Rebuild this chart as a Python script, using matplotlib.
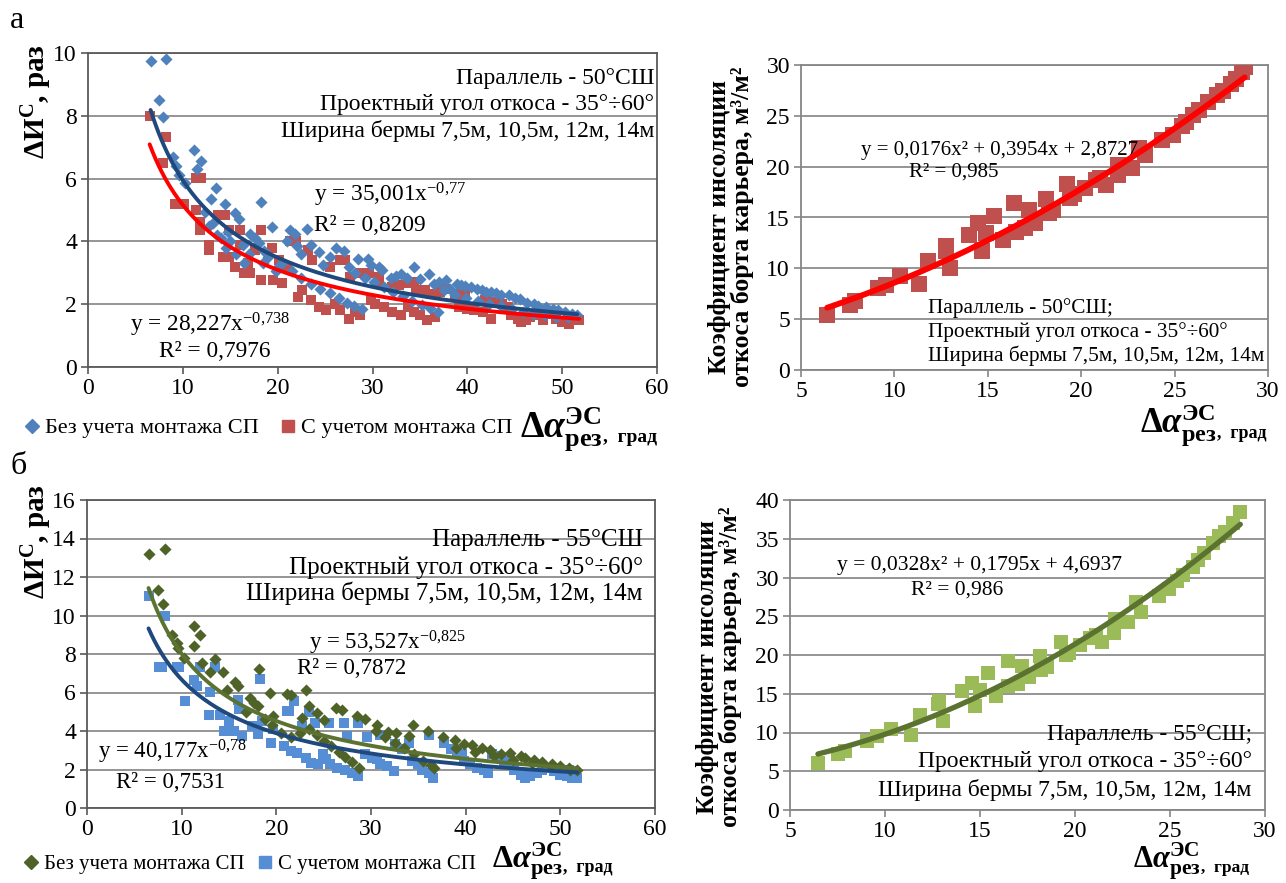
import numpy as np
import matplotlib
matplotlib.use("Agg")
import matplotlib.pyplot as plt
from matplotlib.lines import Line2D

plt.rcParams['font.family'] = ['Liberation Serif', 'DejaVu Serif']
plt.rcParams['mathtext.fontset'] = 'custom'
plt.rcParams['mathtext.rm'] = 'Liberation Serif'
plt.rcParams['mathtext.it'] = 'Liberation Serif:italic'
plt.rcParams['mathtext.bf'] = 'Liberation Serif:bold'
plt.rcParams['mathtext.bfit'] = 'Liberation Serif:italic:bold'

# ---------------- Panel а, left: ΔИС vs Δα (parallel 50°N) ----------------
a_no_sp_x = [6.6, 8.2, 7.5, 7.9, 9.0, 9.3, 9.6, 10.2, 11.2, 11.5, 11.9, 12.3, 13.0, 13.5, 14.4,
             15.5, 15.9, 12.8, 13.6, 14.0, 14.5, 15.0, 15.6, 16.5, 17.1, 17.6, 18.2, 18.0, 18.6,
             19.4, 19.0, 20.0, 21.3, 21.8, 21.0, 22.0, 22.5, 23.1, 23.5, 24.4, 24.8, 25.5, 26.2,
             27.0, 27.5, 28.5, 29.5, 29.8, 30.7, 31.0, 32.0, 32.5, 33.0, 33.6, 34.4, 35.0, 36.0,
             36.5, 37.0, 37.8, 38.2, 38.9, 39.3, 39.8, 40.4, 41.0, 41.5, 42.0, 42.5, 43.0, 43.6,
             44.4, 45.0, 45.6, 46.3, 47.0, 47.5, 48.3, 49.0, 49.6, 50.3, 51.0, 51.6,
             20.5, 21.5, 22.5, 23.5, 24.5, 25.5, 26.5, 27.3, 28.1, 28.9,
             28.2, 29.2, 30.2, 31.2, 32.2, 33.2, 34.2, 35.2, 36.1, 36.9,
             37.5, 38.7, 39.9, 41.1, 42.3, 43.5, 44.7, 45.9, 47.0, 48.2, 49.4, 50.6,
             13.2, 14.8, 16.3, 17.0, 18.5, 19.8]
a_no_sp_y = [9.75, 9.8, 8.5, 7.95, 6.7, 6.4, 6.1, 5.85, 6.9, 6.3, 6.55, 4.95, 5.35, 5.7, 5.2,
             4.9, 4.7, 4.5, 4.2, 4.1, 3.8, 4.0, 3.6, 3.3, 4.25, 4.1, 5.25, 3.95, 3.7,
             4.45, 3.5, 3.2, 4.35, 4.25, 4.0, 3.85, 3.6, 4.4, 3.9, 3.65, 3.25, 3.5, 3.8,
             3.7, 3.2, 3.45, 3.45, 3.25, 3.2, 3.1, 2.85, 2.9, 2.95, 2.85, 3.2, 2.8, 2.95,
             2.65, 2.7, 2.78, 2.5, 2.65, 2.6, 2.57, 2.55, 2.5, 2.45, 2.4, 2.38, 2.35, 2.3,
             2.3, 2.2, 2.15, 2.05, 2.0, 1.95, 1.9, 1.85, 1.8, 1.75, 1.7, 1.65,
             3.3, 3.05, 2.85, 2.65, 2.5, 2.35, 2.2, 2.05, 1.95, 1.85,
             3.0, 2.85, 2.7, 2.55, 2.4, 2.25, 2.1, 1.98, 1.88, 1.76,
             2.45, 2.3, 2.2, 2.1, 2.0, 1.95, 1.85, 1.75, 1.7, 1.65, 1.6, 1.58,
             4.6, 4.3, 3.9, 3.6, 3.3, 3.05]

a_sp_x = [6.5, 8.26, 7.9, 9.17, 10.1, 11.4, 11.9, 11.4, 11.8, 11.8, 12.8, 12.8, 13.7, 14.4, 14.9,
          16.0, 14.2, 14.9, 15.5, 16.0, 16.4, 17.1, 16.9, 17.6, 18.2, 18.2, 19.4, 19.5, 20.1,
          20.5, 21.3, 21.9, 21.0, 22.1, 22.6, 23.2, 23.6, 23.5, 24.4, 25.1, 25.5, 26.6, 27.1,
          26.0, 26.6, 27.5, 28.2, 28.7, 27.6, 28.7, 29.6, 30.7, 30.7, 29.8, 30.3, 31.2, 32.1,
          33.0, 32.1, 32.8, 33.7, 34.4, 34.6, 33.7, 34.4, 35.0, 35.7, 36.6, 35.5, 36.2, 37.1,
          37.8, 38.7, 39.4, 39.8, 39.1, 40.0, 40.7, 41.6, 42.5, 41.9, 42.8, 43.7, 44.3, 44.6,
          45.3, 45.7, 46.2, 46.6, 47.3, 48.0, 48.4, 49.3, 50.0, 50.7, 51.4, 51.8]
a_sp_y = [7.98, 7.32, 6.51, 5.19, 5.19, 6.01, 6.01, 5.0, 4.63, 4.36, 3.88, 3.72, 4.84, 4.84, 4.36,
          4.36, 3.51, 3.51, 3.19, 3.88, 2.98, 2.98, 3.30, 3.72, 4.36, 2.77, 3.78, 2.77, 3.40,
          2.66, 4.02, 4.02, 3.19, 2.23, 2.45, 3.72, 3.40, 2.13, 1.91, 1.81, 3.19, 3.40, 3.40,
          2.02, 1.81, 1.54, 1.76, 1.65, 2.87, 2.98, 2.98, 2.87, 2.66, 2.13, 2.02, 1.91, 1.76,
          1.65, 2.55, 2.61, 2.66, 2.71, 2.45, 1.91, 1.76, 1.65, 1.49, 1.60, 2.45, 2.34, 2.39,
          2.50, 2.34, 2.29, 2.34, 1.91, 1.86, 1.81, 1.76, 1.54, 2.13, 2.07, 2.02, 1.91, 1.65,
          1.54, 1.44, 1.49, 1.60, 1.65, 1.49, 1.70, 1.54, 1.44, 1.38, 1.54, 1.49]

a_fit_no_sp = (35.001, -0.77)
a_fit_sp = (28.227, -0.738)

# ---------------- Panel а, right: insolation coefficient (50°N) ----------------
a_k_x = [6.4, 7.6, 7.9, 9.1, 9.55, 10.3, 11.3, 11.8, 12.75, 12.75, 12.97, 14.0, 14.5, 14.7, 14.9,
         15.35, 15.8, 16.4, 16.5, 17.0, 17.2, 17.5, 18.1, 18.25, 18.5, 19.25, 19.4, 19.6, 20.2,
         20.8, 21.0, 21.35, 21.97, 21.97, 22.7, 23.1, 23.4, 24.35, 24.9, 25.4, 25.6, 26.0, 26.3,
         26.8, 27.25, 27.6, 28.0, 28.3, 28.6, 28.75]
a_k_y = [5.45, 6.37, 6.82, 8.06, 8.39, 9.21, 8.49, 10.77, 12.21, 11.75, 10.02, 13.29, 14.43, 11.75, 13.45,
         15.18, 12.80, 16.39, 13.61, 13.94, 15.73, 14.50, 16.78, 15.41, 15.73, 18.28, 16.88, 17.30, 17.86,
         18.67, 18.84, 18.19, 20.14, 19.16, 19.91, 21.87, 21.12, 22.59, 23.08, 23.96, 24.39, 25.04, 25.53,
         26.35, 27.0, 27.49, 28.14, 28.63, 29.28, 29.84]
a_k_fit = (0.0176, 0.3954, 2.8727)

# ---------------- Panel б, left: ΔИС vs Δα (parallel 55°N) ----------------
b_no_sp_x = [6.5, 8.2, 7.5, 8.0, 9.0, 9.5, 9.6, 10.2, 11.25, 11.35, 11.9, 12.1, 12.96, 13.5, 14.35,
             14.8, 15.65, 15.97, 17.2, 17.6, 18.1, 18.2, 19.3, 19.7, 21.1, 21.6, 23.1, 22.7, 23.5,
             24.3, 25.0, 26.25, 26.9, 28.5, 29.4, 30.6, 31.8, 32.6, 34.0, 34.4, 36.0, 37.6, 38.9,
             39.8, 40.7, 41.7, 42.6, 43.75, 44.7, 45.8, 46.3, 47.2, 48.1, 49.1, 50.0, 50.9, 51.8,
             23.5, 24.3, 25.0, 25.8, 26.6, 27.3, 28.0, 28.7,
             30.5, 31.5, 32.5, 33.5, 34.5, 35.5, 36.3, 36.7,
             39.0, 41.0, 43.0, 45.0, 47.0, 49.0, 51.0,
             19.5, 20.5, 21.5, 22.5, 16.8, 18.8]
b_no_sp_y = [13.2, 13.45, 11.3, 10.6, 8.97, 8.56, 8.33, 7.81, 9.46, 8.39, 8.97, 7.55, 7.08, 7.73, 7.07,
             6.13, 6.56, 6.34, 5.73, 5.47, 5.30, 7.24, 5.95, 4.77, 5.90, 5.85, 6.13, 4.69, 5.30,
             4.95, 4.57, 5.21, 5.09, 4.77, 4.60, 4.29, 3.94, 3.91, 3.73, 4.31, 3.99, 3.68, 3.52,
             3.35, 3.25, 3.12, 2.99, 2.83, 2.86, 2.69, 2.60, 2.48, 2.38, 2.26, 2.17, 2.08, 1.96,
             4.1, 3.8, 3.5, 3.2, 2.9, 2.65, 2.4, 2.1,
             4.0, 3.7, 3.4, 3.1, 2.8, 2.45, 2.25, 2.1,
             3.1, 2.9, 2.7, 2.5, 2.35, 2.2, 2.0,
             4.3, 3.9, 3.7, 3.9, 5.0, 4.6]

b_sp_x = [6.5, 8.2, 7.6, 7.95, 9.5, 9.7, 10.3, 11.25, 11.9, 11.6, 12.96, 12.9, 13.5, 14.1, 14.5,
          15.0, 15.5, 16.0, 16.1, 16.4, 17.4, 18.05, 18.3, 18.5, 19.4, 19.7, 21.1, 21.3, 21.85,
          20.8, 21.5, 22.2, 22.7, 23.4, 23.1, 23.7, 24.1, 24.4, 24.95, 25.55, 25.2, 25.7, 26.4,
          27.1, 27.3, 27.5, 28.0, 28.6, 28.6, 29.6, 29.4, 30.1, 30.6, 30.9, 31.0, 31.7, 32.4,
          32.5, 33.3, 34.0, 34.3, 35.0, 35.4, 36.1, 36.6, 36.1, 37.7, 38.4, 39.1, 39.6, 39.8,
          40.5, 41.2, 41.9, 42.4, 42.8, 43.5, 44.0, 44.7, 45.1, 45.8, 46.3, 46.8, 47.5, 48.1,
          48.8, 49.3, 50.0, 50.7, 51.2, 51.8, 50.9]
b_sp_y = [11.0, 10.0, 7.33, 7.33, 7.33, 7.33, 5.56, 6.63, 7.33, 6.34, 6.04, 4.81, 7.33, 4.81, 3.99,
          4.51, 3.99, 5.59, 5.12, 3.73, 4.25, 3.82, 6.68, 4.51, 3.39, 4.08, 5.03, 5.03, 5.56,
          3.21, 2.95, 2.86, 4.25, 4.98, 2.60, 2.34, 4.43, 2.26, 2.78, 4.43, 2.52, 2.26, 2.08,
          4.43, 2.00, 3.73, 1.82, 1.65, 4.43, 3.68, 2.78, 2.60, 2.52, 3.77, 2.26, 2.17, 1.91,
          3.30, 3.04, 3.39, 2.43, 2.26, 2.00, 1.82, 1.56, 3.77, 3.39, 3.04, 2.95, 2.78, 2.43,
          2.26, 2.08, 2.00, 1.82, 2.78, 2.69, 2.43, 2.26, 2.00, 1.74, 1.56, 1.65, 1.82, 2.00,
          2.08, 1.91, 1.74, 1.65, 1.56, 1.56, 2.00]

b_fit_no_sp = (53.527, -0.825)
b_fit_sp = (40.177, -0.78)

# ---------------- Panel б, right: insolation coefficient (55°N) ----------------
b_k_x = [6.47, 7.55, 7.9, 9.07, 9.58, 10.3, 11.38, 11.83, 12.8, 12.84, 13.05, 14.07, 14.6, 14.74, 15.0,
         15.43, 15.86, 16.45, 16.5, 17.0, 17.23, 17.6, 18.18, 18.2, 18.55, 19.26, 19.5, 19.67, 20.28,
         20.8, 21.1, 21.44, 22.05, 22.11, 22.77, 23.2, 23.5, 24.4, 24.97, 25.37, 25.68, 26.19, 26.5,
         26.8, 27.27, 27.6, 27.9, 28.3, 28.7]
b_k_y = [6.09, 7.17, 7.60, 8.88, 9.53, 10.47, 9.66, 12.32, 13.73, 14.03, 11.46, 15.32, 16.39, 13.39, 15.45,
         17.68, 14.76, 19.18, 15.97, 16.31, 18.54, 17.17, 19.91, 18.11, 18.45, 21.67, 20.04, 20.26, 21.33,
         22.19, 22.62, 21.67, 22.83, 24.64, 24.25, 26.9, 25.6, 27.55, 28.5, 29.5, 30.3, 31.4, 32.3,
         33.1, 34.4, 35.3, 35.9, 37.0, 38.4]
b_k_fit = (0.0328, 0.1795, 4.6937)

info_50 = ["Параллель - 50°СШ", "Проектный угол откоса - 35°÷60°",
           "Ширина бермы 7,5м, 10,5м, 12м, 14м"]
info_55 = ["Параллель - 55°СШ", "Проектный угол откоса - 35°÷60°",
           "Ширина бермы 7,5м, 10,5м, 12м, 14м"]
legend_labels = ["Без учета монтажа СП", "С учетом монтажа СП"]

# colours
BLUE_PT = '#4F81BD'
RED_PT = '#C0504D'
NAVY = '#1F497D'
RED_LINE = '#FF0000'
OLIVE_PT = '#4F6228'
OLIVE_LINE = '#5B7230'
LBLUE_PT = '#558ED5'
LGREEN_PT = '#9BBB59'
GRID = '#8C8C8C'

W, H = 1286, 883
fig = plt.figure(figsize=(W / 100, H / 100), dpi=100)
fig.patch.set_facecolor('white')


def frac(px, py):
    return px / W, 1 - py / H


def style_axes(ax, xlim, xticks, ylim, yticks, spine_color, fs):
    ax.set_xlim(*xlim)
    ax.set_ylim(*ylim)
    ax.set_xticks(xticks)
    ax.set_yticks(yticks)
    ax.yaxis.grid(True, color=GRID, lw=1.3)
    ax.set_axisbelow(True)
    for s in ax.spines.values():
        s.set_color(spine_color)
        s.set_linewidth(1.3)
    ax.tick_params(axis='both', direction='out', length=5, width=1.2, color=spine_color,
                   labelsize=fs, pad=3)


def power_curve(ax, xs, coef, color, lw):
    x = np.linspace(min(xs), max(xs), 300)
    ax.plot(x, coef[0] * x ** coef[1], color=color, lw=lw, zorder=4, solid_capstyle='round')


def quad_curve(ax, xs, coef, color, lw):
    x = np.linspace(min(xs), max(xs), 300)
    ax.plot(x, coef[0] * x ** 2 + coef[1] * x + coef[2], color=color, lw=lw, zorder=4,
            solid_capstyle='round')


# ======================= Panel а, left =======================
ax1 = fig.add_axes([88 / W, 1 - 367 / H, (657 - 88) / W, (367 - 53) / H])
style_axes(ax1, (0, 60), range(0, 61, 10), (0, 10), range(0, 11, 2), '#595959', 17)
ax1.scatter(a_no_sp_x, a_no_sp_y, marker='D', s=38, color=BLUE_PT, lw=0, zorder=3)
ax1.scatter(a_sp_x, a_sp_y, marker='s', s=55, color=RED_PT, lw=0, zorder=2)
power_curve(ax1, a_no_sp_x, a_fit_no_sp, NAVY, 2.8)
power_curve(ax1, a_sp_x, a_fit_sp, RED_LINE, 2.8)
for line, yy in zip(info_50, [9.2, 8.35, 7.5]):
    ax1.text(59.7, yy, line, ha='right', va='center', fontsize=17)
ax1.text(31.9, 5.48, r'y = 35,001x$^{\mathrm{-0{,}77}}$', ha='center', va='center', fontsize=16.8)
ax1.text(29.7, 4.52, 'R² = 0,8209', ha='center', va='center', fontsize=16.8)
ax1.text(12.9, 1.34, r'y = 28,227x$^{\mathrm{-0{,}738}}$', ha='center', va='center', fontsize=16.8)
ax1.text(13.4, 0.48, 'R² = 0,7976', ha='center', va='center', fontsize=16.8)

fig.text(*frac(37, 44), r'ΔИ$^{\mathbf{C}}$, раз', rotation=90, ha='center', va='top',
         fontsize=21, fontweight='bold')

# ======================= Panel а, right =======================
ax2 = fig.add_axes([801 / W, 1 - 370 / H, (1268 - 801) / W, (370 - 65) / H])
style_axes(ax2, (5, 30), range(5, 31, 5), (0, 30), range(0, 31, 5), '#868686', 17)
ax2.scatter(a_k_x, a_k_y, marker='s', s=130, color=RED_PT, lw=0, zorder=3)
quad_curve(ax2, a_k_x, a_k_fit, RED_LINE, 4.2)
ax2.text(11.8, 6.1, info_50[0] + ";", ha='left', va='center', fontsize=15.3)
ax2.text(11.8, 3.74, info_50[1], ha='left', va='center', fontsize=15.3)
ax2.text(11.8, 1.38, info_50[2], ha='left', va='center', fontsize=15.3)
ax2.text(15.65, 21.6, 'y = 0,0176x² + 0,3954x + 2,8727', ha='center', va='center', fontsize=15)
ax2.text(13.2, 19.5, 'R² = 0,985', ha='center', va='center', fontsize=15)
fig.text(*frac(731, 227), 'Коэффициент инсоляции\nоткоса борта карьера, м³/м²', rotation=90,
         ha='center', va='center', fontsize=18.5, fontweight='bold', linespacing=1.0)

# ======================= Panel б, left =======================
ax3 = fig.add_axes([87 / W, 1 - 808 / H, (655 - 87) / W, (808 - 500) / H])
style_axes(ax3, (0, 60), range(0, 61, 10), (0, 16), range(0, 17, 2), '#595959', 17)
ax3.scatter(b_no_sp_x, b_no_sp_y, marker='D', s=38, color=OLIVE_PT, lw=0, zorder=3)
ax3.scatter(b_sp_x, b_sp_y, marker='s', s=55, color=LBLUE_PT, lw=0, zorder=2)
power_curve(ax3, b_no_sp_x, b_fit_no_sp, OLIVE_LINE, 2.8)
power_curve(ax3, b_sp_x, b_fit_sp, NAVY, 2.8)
for line, yy in zip(info_55, [13.9, 12.5, 11.17]):
    ax3.text(58.7, yy, line, ha='right', va='center', fontsize=18)
ax3.text(31.7, 8.57, r'y = 53,527x$^{\mathrm{-0{,}825}}$', ha='center', va='center', fontsize=16.5)
ax3.text(28.0, 7.27, 'R² = 0,7872', ha='center', va='center', fontsize=16.5)
ax3.text(9.0, 2.9, r'y = 40,177x$^{\mathrm{-0{,}78}}$', ha='center', va='center', fontsize=16.5)
ax3.text(8.8, 1.35, 'R² = 0,7531', ha='center', va='center', fontsize=16.5)

fig.text(*frac(37, 484), r'ΔИ$^{\mathbf{C}}$, раз', rotation=90, ha='center', va='top',
         fontsize=21, fontweight='bold')

# ======================= Panel б, right =======================
ax4 = fig.add_axes([790 / W, 1 - 810 / H, (1265 - 790) / W, (810 - 500) / H])
style_axes(ax4, (5, 30), range(5, 31, 5), (0, 40), range(0, 41, 5), '#868686', 17)
ax4.scatter(b_k_x, b_k_y, marker='s', s=115, color=LGREEN_PT, lw=0, zorder=3)
quad_curve(ax4, b_k_x, b_k_fit, OLIVE_LINE, 3.8)
ax4.text(29.3, 9.68, info_55[0] + ";", ha='right', va='center', fontsize=17)
ax4.text(29.3, 6.2, info_55[1], ha='right', va='center', fontsize=17)
ax4.text(29.3, 2.58, info_55[2], ha='right', va='center', fontsize=17)
ax4.text(15.0, 31.6, 'y = 0,0328x² + 0,1795x + 4,6937', ha='center', va='center', fontsize=15.5)
ax4.text(13.8, 28.4, 'R² = 0,986', ha='center', va='center', fontsize=15.5)
fig.text(*frac(719, 667), 'Коэффициент инсоляции\nоткоса борта карьера, м³/м²', rotation=90,
         ha='center', va='center', fontsize=18.5, fontweight='bold', linespacing=1.0)

# ---------------- legends ----------------
h_a = [Line2D([], [], ls='none', marker='D', ms=7, color=BLUE_PT),
       Line2D([], [], ls='none', marker='s', ms=9, color=RED_PT)]
h_b = [Line2D([], [], ls='none', marker='D', ms=7, color=OLIVE_PT),
       Line2D([], [], ls='none', marker='s', ms=9, color=LBLUE_PT)]
for handles, py, fs, gap in [(h_a, 428, 16, 1.0), (h_b, 864, 15, 0.7)]:
    fig.legend(handles, legend_labels, loc='center left', bbox_to_anchor=frac(25, py),
               ncol=2, frameon=False, fontsize=fs, handlelength=0.6, handletextpad=0.3,
               columnspacing=gap, borderpad=0, borderaxespad=0)

# ---------------- axis titles (Δα^ЭС_рез, град) ----------------
for px, py, size, small in [(520, 437, 27, 14), (1140, 433, 25, 13),
                            (492, 868, 23, 13), (1133, 868, 22, 12.5)]:
    t = fig.text(*frac(px, py), r'$\mathbf{Δ}\mathbfit{α}^{\mathbf{ЭС}}_{\mathbf{рез}}$',
                 fontsize=size, ha='left', va='baseline')
    plt.annotate(',  град', xy=(1, 0), xycoords=t, xytext=(0, 5), textcoords='offset points',
                 fontsize=small, fontweight='bold', ha='left', va='bottom')

# panel letters
fig.text(*frac(10, 20), 'а', fontsize=23, ha='left', va='center')
fig.text(*frac(10, 467), 'б', fontsize=23, ha='left', va='center')

fig.savefig('out.png', dpi=100, facecolor='white')
